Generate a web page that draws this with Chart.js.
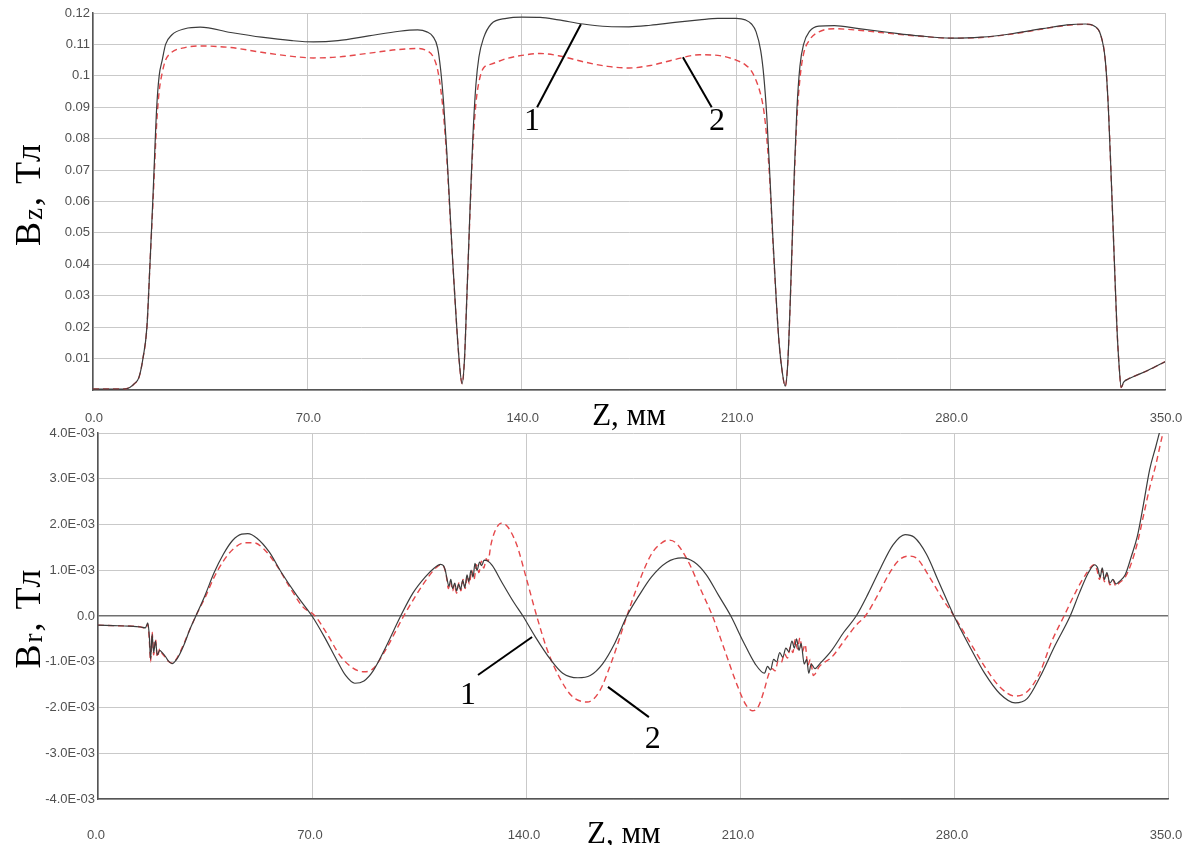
<!DOCTYPE html>
<html>
<head>
<meta charset="utf-8">
<script src="https://cdn.jsdelivr.net/npm/chart.js@4.4.1/dist/chart.umd.min.js"></script>
<style>
  body { margin: 0; background: #fff; }
  #wrap { position: relative; width: 1184px; height: 845px; overflow: hidden; }
  canvas { position: absolute; left: 0; }
  #bzChart { top: 0; }
  #brChart { top: 420px; }
</style>
</head>
<body>
<div id="wrap">
  <canvas id="bzChart" width="1184" height="432"></canvas>
  <canvas id="brChart" width="1184" height="425"></canvas>
</div>
<script>
// Z axis ticks, mm
const zTicks = [0, 70, 140, 210, 280, 350];

// Bz (Тл) ticks
const bzTicks = [0, 0.01, 0.02, 0.03, 0.04, 0.05, 0.06, 0.07, 0.08, 0.09, 0.1, 0.11, 0.12];

// Br ticks, in units of 1E-03 Тл
const brTicks = [-4, -3, -2, -1, 0, 1, 2, 3, 4];

// Bz curves, sampled on one z grid (mm)
const bzZ = [0, 10, 12, 13.5, 15, 16.3, 17.6, 18.6, 19.6, 20.8,
  21.6, 22.6, 23.7, 25.7, 30, 35, 45, 55, 65, 72,
  80, 90, 100, 106, 109, 111, 112.5, 113.5, 114.5, 115.5,
  116.5, 117.5, 118.5, 119.5, 120.5, 121.3, 122, 123, 124, 125,
  126, 127.5, 130, 135, 140, 146, 152, 160, 168, 175,
  182, 190, 198, 204, 210, 213, 215, 216.5, 218, 219,
  220, 221, 222, 223, 224, 225, 226, 226.8, 227.5, 228.3,
  229, 229.8, 230.8, 232, 234, 237, 242, 250, 260, 270,
  280, 290, 300, 310, 318, 324, 327, 329, 330.5, 331.5,
  332.5, 333.5, 334.3, 335, 335.7, 336.5, 338, 342, 346, 350];

const bzCurve1 = [0.0003, 0.0003, 0.0008, 0.002, 0.004, 0.010, 0.020, 0.040, 0.062, 0.090,
  0.100, 0.105, 0.110, 0.113, 0.115, 0.1155, 0.1138, 0.1123, 0.1112, 0.1108,
  0.1112, 0.1127, 0.1142, 0.1146, 0.1140, 0.1125, 0.109, 0.102, 0.091, 0.076,
  0.058, 0.040, 0.024, 0.010, 0.002, 0.010, 0.028, 0.055, 0.080, 0.097,
  0.106, 0.112, 0.1165, 0.1183, 0.1187, 0.1186, 0.1178, 0.1165, 0.1157, 0.1156,
  0.1161, 0.1170, 0.1178, 0.1183, 0.1183, 0.1178, 0.1165, 0.114, 0.108, 0.100,
  0.087, 0.068, 0.048, 0.030, 0.015, 0.006, 0.0012, 0.008, 0.024, 0.048,
  0.070, 0.089, 0.103, 0.110, 0.1142, 0.1158, 0.116, 0.1150, 0.1138, 0.1127,
  0.1120, 0.1123, 0.1134, 0.1150, 0.1162, 0.1165, 0.1158, 0.113, 0.105, 0.090,
  0.066, 0.040, 0.020, 0.008, 0.0008, 0.0025, 0.0035, 0.0052, 0.007, 0.009];

const bzCurve2 = [0.0003, 0.0003, 0.0008, 0.002, 0.004, 0.010, 0.020, 0.040, 0.060, 0.085,
  0.095, 0.101, 0.105, 0.1075, 0.1090, 0.1095, 0.1090, 0.1075, 0.1062, 0.1057,
  0.1060, 0.1072, 0.1084, 0.1087, 0.1080, 0.1062, 0.102, 0.096, 0.087, 0.074,
  0.057, 0.040, 0.024, 0.010, 0.002, 0.010, 0.028, 0.054, 0.077, 0.091,
  0.098, 0.1025, 0.1037, 0.1055, 0.1065, 0.1071, 0.1064, 0.1045, 0.1030, 0.1025,
  0.1033, 0.1052, 0.1067, 0.1065, 0.1050, 0.1035, 0.1015, 0.0985, 0.094, 0.089,
  0.080, 0.066, 0.047, 0.030, 0.015, 0.006, 0.0012, 0.008, 0.024, 0.047,
  0.068, 0.086, 0.099, 0.107, 0.1115, 0.1140, 0.1150, 0.1145, 0.1135, 0.1126,
  0.1120, 0.1122, 0.1133, 0.1149, 0.1161, 0.1164, 0.1157, 0.113, 0.105, 0.090,
  0.066, 0.040, 0.020, 0.008, 0.0008, 0.0025, 0.0035, 0.0052, 0.007, 0.009];

// Br curve 1 (units of 1E-03 Тл)
const brZ1 = [0, 5, 10, 14, 15.5, 16.3, 16.8, 17.2, 17.7, 18.2,
  18.8, 19.4, 20.2, 21, 22, 23, 24.2, 26, 28, 30,
  32, 35, 38, 41, 44, 47, 49, 52, 56, 60,
  65, 70, 74, 78, 81, 84, 87, 90, 94, 99,
  103, 107, 110, 112, 113, 113.6, 114.2, 114.8, 115.4, 116,
  116.7, 117.3, 118, 118.6, 119.3, 120, 120.7, 121.3, 122, 122.7,
  123.3, 124, 124.8, 125.5, 126.3, 127.5, 129, 132, 136, 139,
  143, 148, 152, 157, 161, 165, 169, 173, 177, 181,
  186, 191, 195, 199, 203, 207, 211, 215, 218, 219,
  220, 221, 222, 223, 224, 225, 226, 227, 227.8, 228.5,
  229.3, 230, 231, 231.8, 232.5, 233.3, 234.5, 236, 240, 244,
  248, 252, 256, 260, 264, 267, 271, 275, 280, 285,
  290, 295, 300, 304, 308, 313, 318, 321, 324, 326,
  327, 327.8, 328.5, 329.2, 330, 331, 332, 333, 334, 336,
  338, 340, 342, 344, 346, 348, 350];

const brCurve1 = [-0.20, -0.21, -0.22, -0.24, -0.26, -0.15, -0.45, -0.95, -0.40, -0.80,
  -0.55, -0.85, -0.75, -0.80, -0.88, -0.98, -1.04, -0.92, -0.65, -0.30,
  0.00, 0.45, 0.95, 1.35, 1.65, 1.79, 1.80, 1.70, 1.40, 0.95,
  0.45, 0.00, -0.45, -0.95, -1.30, -1.47, -1.42, -1.20, -0.70, 0.00,
  0.50, 0.85, 1.05, 1.13, 1.10, 1.00, 0.80, 0.65, 0.80, 0.60,
  0.72, 0.55, 0.70, 0.58, 0.78, 0.62, 0.90, 0.75, 1.00, 0.85,
  1.15, 1.00, 1.18, 1.10, 1.22, 1.20, 1.10, 0.75, 0.30, 0.00,
  -0.45, -0.95, -1.25, -1.35, -1.30, -1.05, -0.60, 0.00, 0.45, 0.85,
  1.17, 1.27, 1.18, 0.90, 0.45, 0.00, -0.55, -1.05, -1.25, -1.10,
  -1.18, -0.95, -1.00, -0.80, -0.90, -0.70, -0.78, -0.55, -0.70, -0.50,
  -0.75, -0.60, -1.05, -0.95, -1.25, -1.05, -1.15, -1.05, -0.75, -0.35,
  0.00, 0.50, 1.05, 1.55, 1.78, 1.72, 1.35, 0.75, 0.00, -0.65,
  -1.25, -1.70, -1.90, -1.80, -1.35, -0.65, 0.00, 0.50, 0.95, 1.12,
  1.05, 0.85, 1.05, 0.80, 0.95, 0.72, 0.80, 0.70, 0.75, 0.90,
  1.30, 1.75, 2.45, 3.20, 3.70, 4.20, 4.60];

// Br curve 2 (units of 1E-03 Тл)
const brZ2 = [0, 5, 10, 14, 15.5, 16.3, 16.8, 17.2, 17.7, 18.2,
  18.8, 19.4, 20.2, 21, 22, 23, 24.2, 26, 28, 30,
  32, 35, 38, 41, 44, 48, 51, 54, 58, 63,
  67, 71, 75, 79, 83, 87, 90, 94, 100, 104,
  108, 111, 112.5, 113.3, 114, 114.6, 115.3, 116, 116.6, 117.3,
  118, 118.7, 119.4, 120.1, 120.8, 121.5, 122.2, 123, 123.8, 124.6,
  125.4, 126.2, 127, 127.6, 128.5, 130, 132, 134, 137, 140,
  143.5, 147, 151, 155, 160, 164, 168, 173, 177, 181,
  184, 186.5, 189, 193, 197, 201, 205, 209, 212, 214,
  216, 218, 219.5, 220.5, 221.5, 222.5, 223.5, 224.5, 225.5, 226.5,
  227.3, 228, 228.8, 229.6, 230.4, 231.3, 232.2, 233, 234, 236,
  240, 244, 248, 251, 255, 259, 262, 265, 268, 272,
  276, 280, 285, 290, 295, 300, 304, 308, 312, 316,
  320, 323, 326, 326.8, 327.6, 328.4, 329.2, 330, 331, 332,
  333, 334, 336, 338, 340, 342, 344, 346, 348, 350];

const brCurve2 = [-0.20, -0.21, -0.22, -0.24, -0.27, -0.18, -0.55, -1.00, -0.35, -0.85,
  -0.50, -0.90, -0.72, -0.82, -0.90, -0.99, -1.03, -0.90, -0.62, -0.30,
  0.00, 0.40, 0.85, 1.20, 1.45, 1.60, 1.60, 1.48, 1.15, 0.60,
  0.20, 0.00, -0.40, -0.85, -1.12, -1.22, -1.15, -0.75, 0.00, 0.45,
  0.85, 1.08, 1.12, 1.05, 0.85, 0.60, 0.75, 0.55, 0.68, 0.50,
  0.72, 0.55, 0.80, 0.60, 0.88, 0.70, 1.00, 0.80, 1.12, 0.95,
  1.20, 1.05, 1.25, 1.20, 1.55, 1.88, 2.03, 1.95, 1.55, 0.85,
  0.00, -0.75, -1.35, -1.75, -1.88, -1.65, -1.00, 0.00, 0.75, 1.35,
  1.58, 1.66, 1.60, 1.20, 0.60, 0.00, -0.75, -1.50, -1.95, -2.07,
  -1.98, -1.60, -1.25, -1.15, -1.20, -0.98, -1.02, -0.82, -0.92, -0.68,
  -0.80, -0.52, -0.72, -0.48, -0.78, -0.62, -1.08, -0.95, -1.30, -1.10,
  -0.90, -0.55, -0.20, 0.00, 0.45, 0.95, 1.22, 1.31, 1.25, 0.85,
  0.40, 0.00, -0.55, -1.10, -1.55, -1.75, -1.65, -1.25, -0.55, 0.00,
  0.55, 0.90, 1.12, 1.00, 0.80, 1.02, 0.75, 0.92, 0.68, 0.78,
  0.65, 0.72, 0.85, 1.15, 1.60, 2.20, 2.80, 3.30, 3.90, 4.40];

// curve labels "1" / "2" with leader lines, in data coordinates
const bzNotes = [
  { text: '1', at: [143.3, 0.0855], from: [145, 0.090], to: [159.3, 0.1164] },
  { text: '2', at: [203.7, 0.0855], from: [202, 0.090], to: [192.6, 0.1059] }
];
const brNotes = [
  { text: '1', at: [121, -1.74], from: [124.3, -1.29], to: [142, -0.46] },
  { text: '2', at: [181.5, -2.70], from: [180.2, -2.21], to: [166.8, -1.55] }
];

Chart.defaults.font.family = "'Liberation Sans', Arial, sans-serif";
Chart.defaults.font.size = 13;
Chart.defaults.color = '#505050';

const gridGray = '#c9c9c9';
const axisGray = '#555555';
const serif = "'Liberation Serif', 'Times New Roman', serif";

function pairs(xs, ys) {
  return xs.map((x, i) => ({ x: x, y: ys[i] }));
}

function lineSet(label, xs, ys, dashed) {
  return {
    label: label,
    data: pairs(xs, ys),
    borderColor: dashed ? '#e5484b' : '#3c3c3c',
    borderWidth: dashed ? 1.4 : 1.2,
    borderDash: dashed ? [6, 4] : [],
    pointRadius: 0,
    cubicInterpolationMode: 'monotone',
    fill: false
  };
}

// draws axis titles and the numbered callouts
function decorPlugin(ySub, yCenter, xTitleAt, notes) {
  return {
    id: 'decor',
    afterDatasetsDraw(chart) {
      const ctx = chart.ctx;
      const sx = chart.scales.x, sy = chart.scales.y;
      const big = '36px ' + serif, small = '27px ' + serif;

      // rotated Y title: B + subscript + ", Тл"
      ctx.save();
      ctx.translate(31, yCenter);
      ctx.rotate(-Math.PI / 2);
      ctx.fillStyle = '#000';
      ctx.textBaseline = 'middle';
      if ('letterSpacing' in ctx) ctx.letterSpacing = '2px';
      ctx.font = big;
      const wB = ctx.measureText('B').width;
      const wRest = ctx.measureText(', Тл').width;
      ctx.font = small;
      const wSub = ctx.measureText(ySub).width;
      let px = -(wB + wSub + wRest) / 2;
      ctx.font = big;
      ctx.fillText('B', px, 0);
      px += wB;
      ctx.font = small;
      ctx.fillText(ySub, px, 4);
      px += wSub;
      ctx.font = big;
      ctx.fillText(', Тл', px, 0);
      ctx.restore();

      // X title
      ctx.save();
      ctx.fillStyle = '#000';
      ctx.font = '31px ' + serif;
      ctx.textAlign = 'center';
      ctx.textBaseline = 'middle';
      ctx.fillText('Z, мм', sx.getPixelForValue(xTitleAt[0]), xTitleAt[1]);
      ctx.restore();

      // callouts
      ctx.save();
      ctx.strokeStyle = '#000';
      ctx.lineWidth = 2;
      ctx.fillStyle = '#000';
      ctx.font = '32px ' + serif;
      ctx.textAlign = 'center';
      ctx.textBaseline = 'middle';
      notes.forEach(n => {
        ctx.beginPath();
        ctx.moveTo(sx.getPixelForValue(n.from[0]), sy.getPixelForValue(n.from[1]));
        ctx.lineTo(sx.getPixelForValue(n.to[0]), sy.getPixelForValue(n.to[1]));
        ctx.stroke();
        ctx.fillText(n.text, sx.getPixelForValue(n.at[0]), sy.getPixelForValue(n.at[1]));
      });
      ctx.restore();
    }
  };
}

function xScale(axisHeight, labelPad, shift) {
  return {
    type: 'linear',
    min: 0,
    max: 350,
    afterBuildTicks: s => { s.ticks = zTicks.map(v => ({ value: v })); },
    afterFit: s => {
      s.height = axisHeight;
      // keep label padding from widening the side margins
      s.paddingLeft = 0;
      s.paddingRight = 0;
    },
    grid: { color: gridGray, drawTicks: false },
    border: { color: axisGray, width: 1.5 },
    ticks: {
      maxRotation: 0,
      padding: labelPad,
      labelOffset: shift,
      callback: v => v.toFixed(1)
    }
  };
}

// Bz chart
new Chart(document.getElementById('bzChart').getContext('2d'), {
  type: 'line',
  data: {
    datasets: [
      lineSet('1', bzZ, bzCurve1, false),
      lineSet('2', bzZ, bzCurve2, true)
    ]
  },
  options: {
    responsive: false,
    animation: false,
    devicePixelRatio: 1,
    layout: { padding: { top: 13, right: 19, left: 0, bottom: 0 } },
    plugins: { legend: { display: false }, tooltip: { enabled: false } },
    scales: {
      x: xScale(42, 21, 1),
      y: {
        type: 'linear',
        min: 0,
        max: 0.12,
        afterBuildTicks: s => { s.ticks = bzTicks.map(v => ({ value: v })); },
        afterFit: s => { s.width = 93; },
        grid: { color: gridGray, drawTicks: false },
        border: { color: axisGray, width: 1.5 },
        ticks: {
          padding: 3,
          callback: v => (v === 0 ? '' : String(parseFloat(v.toFixed(2))))
        }
      }
    }
  },
  plugins: [decorPlugin('z', 194, [175, 417], bzNotes)]
});

// Br chart
new Chart(document.getElementById('brChart').getContext('2d'), {
  type: 'line',
  data: {
    datasets: [
      lineSet('1', brZ1, brCurve1, false),
      lineSet('2', brZ2, brCurve2, true)
    ]
  },
  options: {
    responsive: false,
    animation: false,
    devicePixelRatio: 1,
    layout: { padding: { top: 13, right: 16, left: 0, bottom: 0 } },
    plugins: { legend: { display: false }, tooltip: { enabled: false } },
    scales: {
      x: xScale(46, 29, -2),
      y: {
        type: 'linear',
        min: -4,
        max: 4,
        afterBuildTicks: s => { s.ticks = brTicks.map(v => ({ value: v })); },
        afterFit: s => { s.width = 98; },
        grid: {
          drawTicks: false,
          color: c => (c.tick && c.tick.value === 0 ? '#707070' : gridGray),
          lineWidth: c => (c.tick && c.tick.value === 0 ? 1.6 : 1)
        },
        border: { color: axisGray, width: 1.5 },
        ticks: {
          padding: 3,
          callback: v => (v === 0 ? '0.0' : v.toFixed(1) + 'E-03')
        }
      }
    }
  },
  plugins: [decorPlugin('r', 198, [172, 415], brNotes)]
});
</script>
</body>
</html>
